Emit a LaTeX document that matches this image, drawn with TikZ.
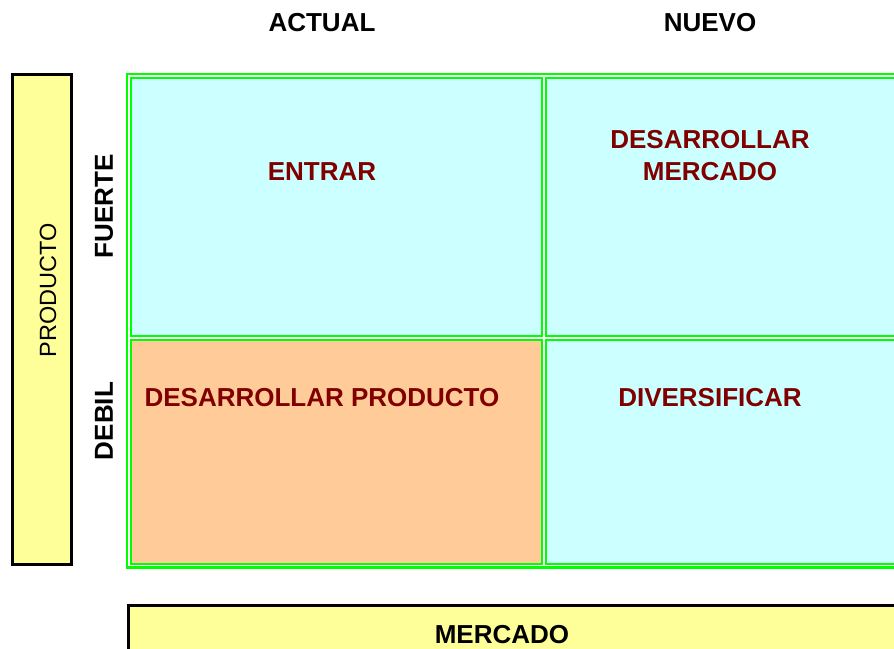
\documentclass[tikz,border=0pt]{standalone}
\usepackage{fontspec}
\setmainfont{Liberation Sans}

\definecolor{cellcyan}{HTML}{CCFFFF}
\definecolor{cellpeach}{HTML}{FFCC99}
\definecolor{boxyellow}{HTML}{FFFF99}
\definecolor{gridgreen}{HTML}{00FF00}
\definecolor{labelred}{HTML}{800000}

\tikzset{
  gridline/.style={draw=gridgreen, line width=2.2pt},
  sidebox/.style={draw=black, line width=3pt, fill=boxyellow},
  header/.style={font=\fontsize{26}{30}\selectfont\bfseries, inner sep=0pt},
  quadlabel/.style={header, text=labelred, align=center},
  axislabel/.style={font=\fontsize{23.5}{28}\selectfont, inner sep=0pt}
}

\begin{document}
\begin{tikzpicture}[x=1pt, y=-1pt]

% Page size (pixels of the original)
\useasboundingbox (0,0) rectangle (894,648);
\clip (0,0) rectangle (894,648);

% Grid corners
\coordinate (TL) at (131,78);
\coordinate (MR) at (542,336);
\coordinate (ML) at (546,340);
\coordinate (BR) at (920,564);

% Outer frame
\draw[gridline] (127,74) rectangle (930,567.5);

% Four cells
\draw[gridline, fill=cellcyan]  (TL) rectangle (MR);
\draw[gridline, fill=cellcyan]  (546,78) rectangle (920,336);
\draw[gridline, fill=cellpeach] (131,340) rectangle (542,564);
\draw[gridline, fill=cellcyan]  (ML) rectangle (BR);

% Yellow axis boxes
\draw[sidebox] (12.5,74.5) rectangle (71.5,564.5);
\draw[sidebox] (128.5,605.5) rectangle (930,680);

% Column headers
\node[header] (actual) at (322,23) {ACTUAL};
\node[header] (nuevo)  at (710,23) {NUEVO};

% Row headers
\node[header, rotate=90] (fuerte) at (104,206) {FUERTE};
\node[header, rotate=90] (debil)  at (104,421) {DEBIL};

% Quadrant labels
\node[quadlabel] (entrar) at (322,172) {ENTRAR};
\node[quadlabel] (desmercado) at (710,156) {DESARROLLAR\\[2pt]MERCADO};
\node[quadlabel] (desproducto) at (322,398) {DESARROLLAR PRODUCTO};
\node[quadlabel] (diversificar) at (710,398) {DIVERSIFICAR};

% Axis names
\node[axislabel, rotate=90] (producto) at (48,290) {PRODUCTO};
\node[header] (mercado) at (502,635) {MERCADO};

\end{tikzpicture}
\end{document}
